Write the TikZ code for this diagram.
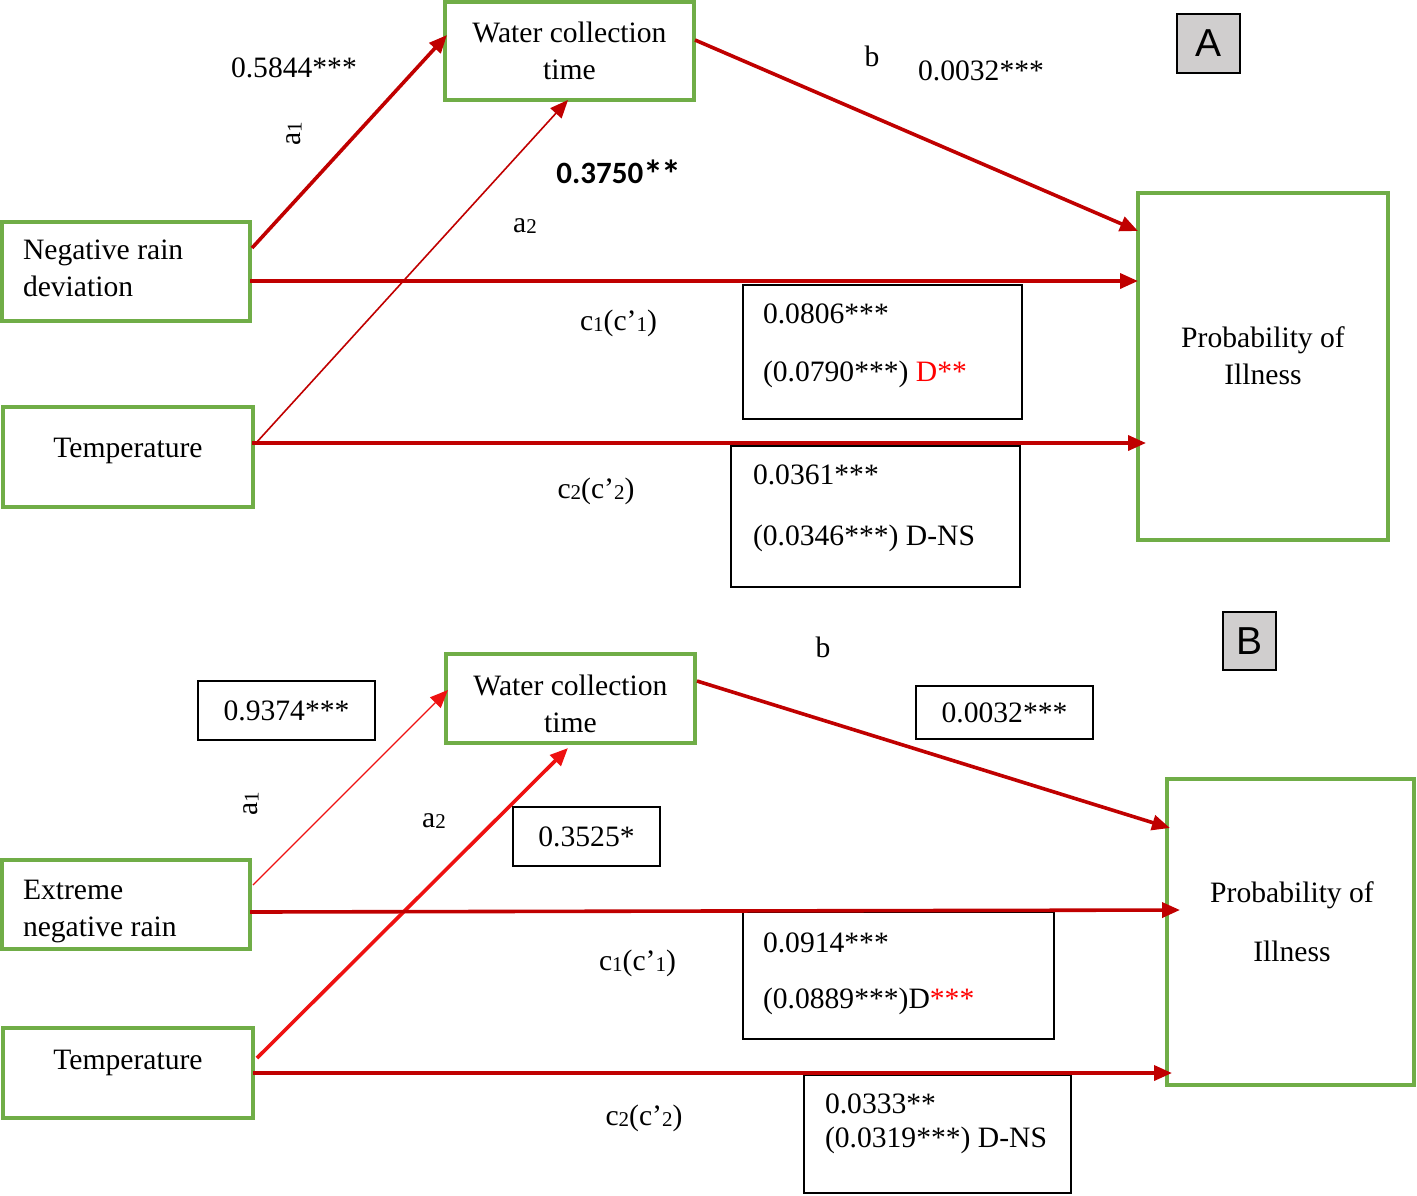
\documentclass[tikz,border=0pt]{standalone}
\usepackage{fontspec}
\setmainfont{Liberation Serif}
\newfontfamily\arialfont{Liberation Sans}
\newfontfamily\calfont{Carlito}
\usetikzlibrary{arrows.meta,calc}
\definecolor{dred}{HTML}{C00000}
\definecolor{bred}{HTML}{EE1111}
\definecolor{gborder}{HTML}{70AD47}
\definecolor{lgray}{HTML}{D0CECE}
\newcommand{\subn}[1]{\raisebox{-0.6pt}{\fontsize{10.5}{12}\selectfont #1}}
\begin{document}
\begin{tikzpicture}[x=0.5pt,y=-0.5pt,
  every node/.style={font=\fontsize{14.8}{18.5}\selectfont, inner sep=0pt, outer sep=0pt},
  gbox/.style={draw=gborder, line width=1.7pt},
  kbox/.style={draw=black, line width=1pt},
  lbox/.style={draw=black, line width=0.9pt, fill=lgray, font=\arialfont\fontsize{19.5}{20}\selectfont},
  arr/.style={-{Triangle[length=9pt,width=7.5pt]}, line width=1.8pt, draw=dred},
  thinarr/.style={arr, line width=0.8pt},
  brarr/.style={arr, draw=bred},
  brthin/.style={arr, draw=bred, line width=0.6pt},
  redtxt/.style={text=red}
]
\useasboundingbox (0,0) rectangle (1417,1195);

% ---------------- Panel A ----------------
\node[gbox, minimum width=124.5pt, minimum height=49pt] (wA) at (569.5,51) {};
\node[gbox, minimum width=124pt, minimum height=49.5pt] (nA) at (126,271.5) {};
\node[gbox, minimum width=125pt, minimum height=50pt] (tA) at (128,457) {};
\node[gbox, minimum width=125pt, minimum height=173.5pt] (pA) at (1263,366.5) {};
\node[lbox, minimum width=31.5pt, minimum height=29.5pt] (labA) at (1208.5,43.5) {A};
\node[kbox, minimum width=139.5pt, minimum height=67pt] (kA1) at (882.5,352) {};
\node[kbox, minimum width=144.5pt, minimum height=70.5pt] (kA2) at (875.5,516.5) {};

\node[align=center] (wAt) at (569.5,51) {Water collection\\time};
\node[align=left, anchor=north west] (nAt) at (23,240) {Negative rain\\deviation};
\node[anchor=base] (tAt) at (128,457) {Temperature};
\node[align=center] (pAt) at (1263,355.5) {Probability of\\Illness};
\node[anchor=base west] (kA1a) at (763,323) {0.0806***};
\node[anchor=base west] (kA1b) at (763,381) {(0.0790***) \textcolor{red}{D**}};
\node[anchor=base west] (kA2a) at (753,484) {0.0361***};
\node[anchor=base west] (kA2b) at (753,545) {(0.0346***) D-NS};

\node[anchor=base west] (vA1) at (231,77) {0.5844***};
\node[rotate=90] (lA1) at (294,134) {a\subn{1}};
\node[anchor=base, font=\calfont\fontsize{15.5}{18}\selectfont] (vA2) at (619,183) {\textbf{0.3750}\raisebox{-2.5pt}{\fontsize{20}{20}\selectfont\bfseries*\kern-0.8pt*}};
\node[anchor=base] (lA2) at (525,232) {a\subn{2}};
\node (lAb) at (872,56) {b};
\node (vAb) at (981,71) {0.0032***};
\node[anchor=base] (lAc1) at (618.5,330) {c\subn{1}(c’\subn{1})};
\node[anchor=base] (lAc2) at (596,498) {c\subn{2}(c’\subn{2})};

\draw[arr] ($(nA.east)+(2,-23.5)$) -- ($(wA.west)+(2,-16)$);
\draw[thinarr] ($(tA.east)+(3,-14)$) -- ($(wA.south)+(-1.5,0)$);
\draw[arr] ($(wA.east)+(1,-11)$) -- ($(pA.north west)+(0,38)$);
\coordinate (c1As) at ($(nA.east)+(0,9.5)$);
\draw[arr] (c1As) -- (c1As -| pA.west);
\coordinate (c2As) at ($(tA.east)+(-1,-14)$);
\draw[arr] (c2As) -- ($(c2As -| pA.west)+(8,0)$);

% ---------------- Panel B ----------------
\node[gbox, minimum width=124.5pt, minimum height=44.5pt] (wB) at (570.5,698.5) {};
\node[gbox, minimum width=124pt, minimum height=44.5pt] (eB) at (126,904.5) {};
\node[gbox, minimum width=125pt, minimum height=45pt] (tB) at (128,1073) {};
\node[gbox, minimum width=123.5pt, minimum height=153pt] (pB) at (1290.5,932) {};
\node[lbox, minimum width=26.5pt, minimum height=29pt] (labB) at (1249.5,641) {B};
\node[kbox, minimum width=88.5pt, minimum height=29.5pt] (kB0) at (286.5,710.5) {0.9374***};
\node[kbox, minimum width=73.5pt, minimum height=29.5pt] (kB1) at (586.5,836.5) {0.3525*};
\node[kbox, minimum width=88.5pt, minimum height=26.5pt] (kB2) at (1004.5,712.5) {0.0032***};
\node[kbox, minimum width=155.5pt, minimum height=63.5pt] (kB3) at (898.5,975.5) {};
\node[kbox, minimum width=133.5pt, minimum height=59pt] (kB4) at (937.5,1134) {};

\node[align=center] (wBt) at (570.5,704) {Water collection\\time};
\node[align=left, anchor=north west] (eBt) at (23,880) {Extreme\\negative rain};
\node[anchor=base] (tBt) at (128,1069) {Temperature};
\node[align=center, font=\fontsize{14.8}{29.5}\selectfont] (pBt) at (1292,921.5) {Probability of\\Illness};
\node[anchor=base west] (kB3a) at (763,952) {0.0914***};
\node[anchor=base west] (kB3b) at (763,1008) {(0.0889***)D\textcolor{red}{***}};
\node[anchor=base west] (kB4a) at (825,1113) {0.0333**};
\node[anchor=base west] (kB4b) at (825,1147) {(0.0319***) D-NS};

\node (lBb) at (823,647) {b};
\node[rotate=90] (lB1) at (251,804) {a\subn{1}};
\node[anchor=base] (lB2) at (434,827) {a\subn{2}};
\node[anchor=base] (lBc1) at (637.5,970) {c\subn{1}(c’\subn{1})};
\node[anchor=base] (lBc2) at (644,1125) {c\subn{2}(c’\subn{2})};

\draw[brthin] ($(eB.east)+(3,-19.5)$) -- ($(wB.west)+(2,-8.5)$);
\draw[brarr] ($(tB.east)+(4,-15)$) -- ($(wB.south)+(-2.5,5)$);
\draw[arr] ($(wB.east)+(2,-17.5)$) -- ($(pB.north west)+(3,49)$);
\draw[arr] ($(eB.east)+(0,7.5)$) -- ($(pB.west)+(13,-22)$);
\draw[arr] (tB.east) -- ($(tB.east -| pB.west)+(5,0)$);
\end{tikzpicture}
\end{document}
